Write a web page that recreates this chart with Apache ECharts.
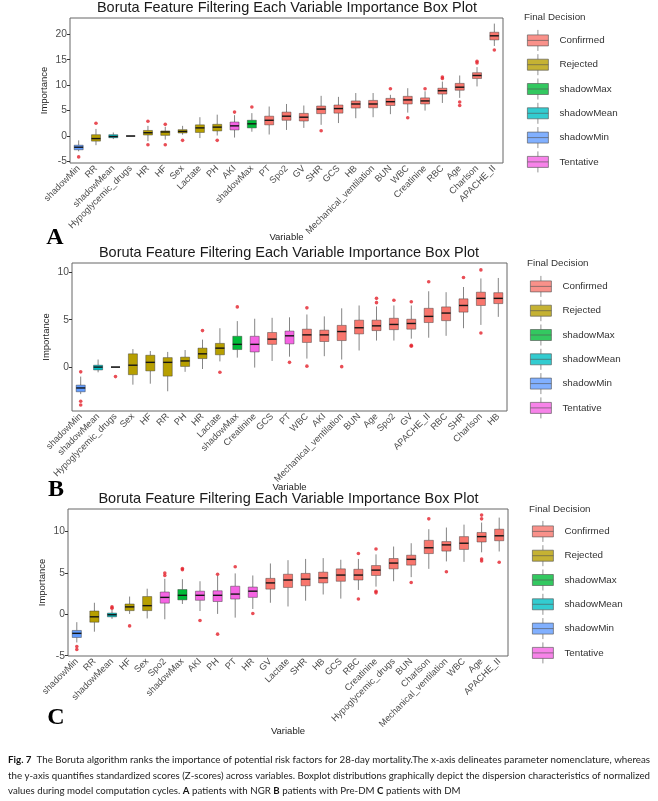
<!DOCTYPE html>
<html lang="en">
  <head>
    <meta charset="UTF-8" />
    <title>Boruta importance box plots</title>
    <script src="https://cdn.jsdelivr.net/npm/echarts@6.0.0/dist/echarts.min.js"></script>
    <style>
      html, body { margin: 0; padding: 0; background: #fff; }
      #chart { width: 658px; height: 801px; }
    </style>
  </head>
  <body>
    <div id="chart"></div>
    <script>
      const COLORS = {
        Confirmed: '#F8766D',
        Rejected: '#B79F00',
        shadowMax: '#00BA38',
        shadowMean: '#00BFC4',
        shadowMin: '#619CFF',
        Tentative: '#F564E3'
      };
      const DECISIONS = Object.keys(COLORS);

      // ---- panel A: patients with NGR ----
      const varsA = ['shadowMin', 'RR', 'shadowMean', 'Hypoglycemic_drugs', 'HR', 'HF', 'Sex', 'Lactate', 'PH', 'AKI',
        'shadowMax', 'PT', 'Spo2', 'GV', 'SHR', 'GCS', 'HB', 'Mechanical_ventilation', 'BUN', 'WBC', 'Creatinine',
        'RBC', 'Age', 'Charlson', 'APACHE_II'];
      const decisionA = ['shadowMin', 'Rejected', 'shadowMean', 'Rejected', 'Rejected', 'Rejected', 'Rejected', 'Rejected',
        'Rejected', 'Tentative', 'shadowMax', 'Confirmed', 'Confirmed', 'Confirmed', 'Confirmed', 'Confirmed', 'Confirmed',
        'Confirmed', 'Confirmed', 'Confirmed', 'Confirmed', 'Confirmed', 'Confirmed', 'Confirmed', 'Confirmed'];
      // min, q1, median, q3, max
      const boxA = [
        [-3.0, -2.7, -2.2, -1.8, -0.85], [-1.8, -1.0, -0.5, 0.26, 1.4], [-0.6, -0.33, -0.1, 0.26, 0.7],
        [0, 0, 0, 0, 0], [-1.0, 0.2, 0.65, 1.1, 2.0], [-0.7, 0.13, 0.8, 1.0, 1.8], [0.25, 0.6, 0.9, 1.25, 2.0],
        [-0.4, 0.7, 1.6, 2.2, 3.7], [0.1, 1.0, 1.75, 2.3, 4.2], [-0.3, 1.2, 2.0, 2.75, 4.1],
        [0.85, 1.6, 2.4, 3.1, 4.5], [0.3, 2.2, 3.1, 3.9, 5.8], [1.2, 3.1, 3.9, 4.7, 6.3], [1.6, 2.95, 3.7, 4.45, 6.0],
        [2.2, 4.4, 5.3, 5.9, 7.9], [2.55, 4.5, 5.4, 6.1, 7.7], [3.5, 5.5, 6.3, 6.9, 8.45], [3.7, 5.55, 6.3, 7.0, 8.45],
        [4.3, 6.0, 6.75, 7.4, 8.1], [4.6, 6.3, 7.1, 7.8, 9.4], [5.0, 6.3, 6.9, 7.5, 8.8], [6.5, 8.25, 8.9, 9.4, 10.7],
        [7.5, 9.0, 9.6, 10.35, 11.9], [9.75, 11.3, 11.9, 12.45, 13.55], [17.7, 18.9, 19.7, 20.4, 22.1]
      ];
      const outliersA = [
        ['shadowMin', -4.1], ['RR', 2.5], ['HR', 2.9], ['HR', -1.7], ['HF', 2.3], ['HF', -1.7], ['Sex', -0.85],
        ['PH', -0.85], ['AKI', 4.7], ['shadowMax', 5.7], ['SHR', 1.05], ['BUN', 9.3], ['WBC', 3.6],
        ['Creatinine', 9.3], ['RBC', 11.6], ['RBC', 11.3], ['Age', 6.7], ['Age', 6.0], ['Charlson', 14.7],
        ['Charlson', 14.35], ['APACHE_II', 16.9]
      ];
      const ticksA = [-5, 0, 5, 10, 15, 20];

      // ---- panel B: patients with Pre-DM ----
      const varsB = ['shadowMin', 'shadowMean', 'Hypoglycemic_drugs', 'Sex', 'HF', 'RR', 'PH', 'HR', 'Lactate',
        'shadowMax', 'Creatinine', 'GCS', 'PT', 'WBC', 'AKI', 'Mechanical_ventilation', 'BUN', 'Age', 'Spo2', 'GV',
        'APACHE_II', 'RBC', 'SHR', 'Charlson', 'HB'];
      const decisionB = ['shadowMin', 'shadowMean', 'Rejected', 'Rejected', 'Rejected', 'Rejected', 'Rejected', 'Rejected',
        'Rejected', 'shadowMax', 'Tentative', 'Confirmed', 'Tentative', 'Confirmed', 'Confirmed', 'Confirmed', 'Confirmed',
        'Confirmed', 'Confirmed', 'Confirmed', 'Confirmed', 'Confirmed', 'Confirmed', 'Confirmed', 'Confirmed'];
      const boxB = [
        [-2.85, -2.6, -2.2, -1.9, -1.0], [-0.55, -0.3, 0, 0.2, 0.8], [0, 0, 0, 0, 0], [-1.85, -0.8, 0.2, 1.4, 1.9],
        [-1.75, -0.4, 0.5, 1.25, 1.7], [-2.55, -0.95, 0.5, 1.0, 1.6], [-0.5, 0.07, 0.65, 1.05, 1.8],
        [-0.2, 0.9, 1.4, 2.0, 2.9], [0.6, 1.3, 2.0, 2.5, 4.1], [1.0, 1.85, 2.4, 3.25, 4.85],
        [-0.05, 1.6, 2.4, 3.25, 5.1], [0.65, 2.4, 2.95, 3.65, 5.2], [1.1, 2.45, 3.3, 3.8, 5.25],
        [0.9, 2.6, 3.4, 4.0, 5.55], [1.15, 2.7, 3.4, 3.9, 5.35], [0.8, 2.8, 3.75, 4.4, 6.2],
        [1.75, 3.5, 4.15, 4.95, 6.5], [2.8, 3.85, 4.35, 4.95, 6.4], [2.8, 3.95, 4.5, 5.15, 6.5],
        [3.0, 4.0, 4.6, 5.05, 6.5], [3.1, 4.7, 5.35, 6.2, 8.0], [3.3, 4.9, 5.7, 6.35, 7.9],
        [4.1, 5.8, 6.5, 7.2, 8.45], [4.45, 6.5, 7.25, 7.9, 9.35], [5.3, 6.7, 7.25, 7.85, 9.4]
      ];
      const outliersB = [
        ['shadowMin', -0.5], ['shadowMin', -3.6], ['shadowMin', -4.0], ['Hypoglycemic_drugs', -1.0], ['HR', 3.85],
        ['Lactate', -0.55], ['shadowMax', 6.35], ['PT', 0.5], ['WBC', 6.25], ['WBC', 0.1],
        ['Mechanical_ventilation', 0.05], ['Age', 7.25], ['Age', 6.8], ['Spo2', 7.05], ['GV', 6.9], ['GV', 2.3],
        ['GV', 2.2], ['APACHE_II', 9.0], ['SHR', 9.45], ['Charlson', 10.25], ['Charlson', 3.6]
      ];
      const ticksB = [0, 5, 10];

      // ---- panel C: patients with DM ----
      const varsC = ['shadowMin', 'RR', 'shadowMean', 'HF', 'Sex', 'Spo2', 'shadowMax', 'AKI', 'PH', 'PT', 'HR', 'GV',
        'Lactate', 'SHR', 'HB', 'GCS', 'RBC', 'Creatinine', 'Hypoglycemic_drugs', 'BUN', 'Charlson',
        'Mechanical_ventilation', 'WBC', 'Age', 'APACHE_II'];
      const decisionC = ['shadowMin', 'Rejected', 'shadowMean', 'Rejected', 'Rejected', 'Tentative', 'shadowMax',
        'Tentative', 'Tentative', 'Tentative', 'Tentative', 'Confirmed', 'Confirmed', 'Confirmed', 'Confirmed',
        'Confirmed', 'Confirmed', 'Confirmed', 'Confirmed', 'Confirmed', 'Confirmed', 'Confirmed', 'Confirmed',
        'Confirmed', 'Confirmed'];
      const boxC = [
        [-3.4, -2.8, -2.3, -1.95, -0.95], [-2.1, -0.95, -0.3, 0.4, 1.4], [-0.55, -0.3, -0.05, 0.15, 0.6],
        [0.05, 0.45, 0.9, 1.25, 2.15], [-0.5, 0.45, 1.05, 2.15, 3.1], [-0.6, 1.35, 2.05, 2.7, 4.3],
        [1.25, 1.75, 2.3, 3.0, 4.25], [0.4, 1.7, 2.3, 2.8, 4.0], [0.05, 1.55, 2.3, 2.85, 4.7],
        [-0.4, 1.85, 2.45, 3.4, 4.95], [0.65, 2.05, 2.8, 3.3, 4.7], [1.4, 3.05, 3.8, 4.35, 6.15],
        [0.95, 3.25, 4.15, 4.85, 6.55], [1.65, 3.45, 4.25, 4.95, 6.7], [2.4, 3.8, 4.4, 5.1, 6.8],
        [1.9, 4.0, 4.75, 5.5, 6.6], [2.95, 4.15, 4.75, 5.45, 6.7], [3.35, 4.7, 5.35, 5.9, 7.25],
        [4.0, 5.5, 6.2, 6.75, 8.2], [4.5, 5.95, 6.65, 7.15, 8.6], [5.5, 7.35, 8.05, 8.95, 10.3],
        [6.4, 7.65, 8.4, 8.8, 10.5], [6.35, 7.85, 8.6, 9.4, 10.85], [7.5, 8.75, 9.4, 9.9, 11.1],
        [7.6, 8.9, 9.5, 10.3, 11.7]
      ];
      const outliersC = [
        ['shadowMin', -3.9], ['shadowMin', -4.25], ['shadowMean', 0.9], ['shadowMean', 0.75], ['HF', -1.4],
        ['Spo2', 5.0], ['Spo2', 4.7], ['shadowMax', 5.55], ['shadowMax', 5.4], ['AKI', -0.75], ['PH', 4.85],
        ['PH', -2.4], ['PT', 5.75], ['HR', 0.1], ['RBC', 7.35], ['RBC', 1.85], ['Creatinine', 7.9],
        ['Creatinine', 2.8], ['Creatinine', 2.6], ['BUN', 3.85], ['Charlson', 11.55],
        ['Mechanical_ventilation', 5.15], ['Age', 12.0], ['Age', 11.55], ['Age', 6.7], ['Age', 6.45],
        ['APACHE_II', 6.3]
      ];
      const ticksC = [-5, 0, 5, 10];

      const TITLE = 'Boruta Feature Filtering Each Variable Importance Box Plot';
      const FONT = 'Liberation Sans, Arial, sans-serif';
      const BOX_ICON = 'path://M10.5,0L10.5,5M0,5L21,5L21,16L0,16ZM0,10.5L21,10.5M10.5,16L10.5,21';

      const chart = echarts.init(document.getElementById('chart'), null, { renderer: 'canvas' });

      function renderBox(params, api) {
        const x = api.value(0);
        const w = api.size([1, 0])[0] * 0.52;
        const p = [1, 2, 3, 4, 5].map((k) => api.coord([x, api.value(k)]));
        const cx = p[0][0];
        const col = COLORS[DECISIONS[api.value(6)]];
        const whisker = { stroke: '#858585', lineWidth: 1 };
        return {
          type: 'group',
          children: [
            { type: 'line', shape: { x1: cx, y1: p[4][1], x2: cx, y2: p[3][1] }, style: whisker },
            { type: 'line', shape: { x1: cx, y1: p[1][1], x2: cx, y2: p[0][1] }, style: whisker },
            {
              type: 'rect',
              shape: { x: cx - w / 2, y: p[3][1], width: w, height: p[1][1] - p[3][1] },
              style: { fill: col, stroke: 'rgba(50,50,50,0.55)', lineWidth: 0.8 }
            },
            {
              type: 'line',
              shape: { x1: cx - w / 2, y1: p[2][1], x2: cx + w / 2, y2: p[2][1] },
              style: { stroke: '#151515', lineWidth: 1.4 }
            }
          ]
        };
      }

      const panels = [
        { vars: varsA, dec: decisionA, box: boxA, outs: outliersA, ticks: ticksA,
          grid: { left: 70, top: 18, width: 433, height: 145 }, min: -5.3, max: 23.2, nameGap: 69,
          legend: { left: 527, top: 29.5 }, head: { x: 524, y: 17 }, titleX: 287, titleY: 8, letter: ['A', 55, 238] },
        { vars: varsB, dec: decisionB, box: boxB, outs: outliersB, ticks: ticksB,
          grid: { left: 72, top: 263, width: 435, height: 148 }, min: -4.63, max: 10.98, nameGap: 71,
          legend: { left: 530, top: 275.5 }, head: { x: 527, y: 263 }, titleX: 289, titleY: 253, letter: ['B', 56, 490] },
        { vars: varsC, dec: decisionC, box: boxC, outs: outliersC, ticks: ticksC,
          grid: { left: 68, top: 509, width: 440, height: 147 }, min: -5.04, max: 12.74, nameGap: 70,
          legend: { left: 532, top: 520.5 }, head: { x: 529, y: 509 }, titleX: 288.5, titleY: 499, letter: ['C', 56, 718] }
      ];

      const grids = [], xAxes = [], yAxes = [], series = [], legends = [], graphics = [];

      panels.forEach((pn, i) => {
        grids.push(Object.assign({ show: true, borderColor: '#666', borderWidth: 1 }, pn.grid));
        xAxes.push({
          type: 'category', gridIndex: i, data: pn.vars,
          axisLine: { show: false },
          axisTick: { alignWithLabel: true, interval: 0, length: 3, lineStyle: { color: '#333' } },
          axisLabel: { rotate: 45, interval: 0, fontSize: 9.2, color: '#4d4d4d', margin: 4, fontFamily: FONT },
          splitLine: { show: false },
          name: 'Variable', nameLocation: 'middle', nameGap: pn.nameGap, nameMoveOverlap: false,
          nameTextStyle: { fontSize: 9.5, color: '#222', fontFamily: FONT }
        });
        yAxes.push({
          type: 'value', gridIndex: i, min: pn.min, max: pn.max,
          axisLine: { show: false },
          splitLine: { show: false },
          axisTick: { show: true, length: 3, customValues: pn.ticks, lineStyle: { color: '#333' } },
          axisLabel: { customValues: pn.ticks, fontSize: 10.3, color: '#4d4d4d', margin: 3, fontFamily: FONT },
          name: 'Importance', nameLocation: 'middle', nameGap: 21, nameRotate: 90, nameMoveOverlap: false,
          nameTextStyle: { fontSize: 9.5, color: '#222', fontFamily: FONT }
        });
        series.push({
          type: 'custom', name: 'box' + i, xAxisIndex: i, yAxisIndex: i,
          renderItem: renderBox,
          encode: { x: 0, y: [1, 2, 3, 4, 5] },
          data: pn.box.map((b, k) => [k, ...b, DECISIONS.indexOf(pn.dec[k])])
        });
        series.push({
          type: 'scatter', name: 'outliers' + i, xAxisIndex: i, yAxisIndex: i,
          symbolSize: 3.6, itemStyle: { color: '#E4202A' }, z: 5,
          data: pn.outs
        });
        legends.push({
          data: DECISIONS, orient: 'vertical', left: pn.legend.left, top: pn.legend.top,
          itemWidth: 21, itemHeight: 21, itemGap: 2.5, padding: 0, icon: BOX_ICON, selectedMode: false,
          itemStyle: { borderColor: '#555', borderWidth: 0.8 },
          textStyle: { fontSize: 9.8, color: '#333', fontFamily: FONT, padding: [0, 0, 0, 6] }
        });
        graphics.push({
          type: 'text', x: pn.head.x, y: pn.head.y,
          style: { text: 'Final Decision', fontSize: 9.8, fontFamily: FONT, fill: '#333', verticalAlign: 'middle' }
        });
        graphics.push({
          type: 'text', x: pn.titleX, y: pn.titleY,
          style: { text: TITLE, fontSize: 14.5, fontFamily: FONT, fill: '#1a1a1a', align: 'center', verticalAlign: 'middle' }
        });
        graphics.push({
          type: 'text', x: pn.letter[1], y: pn.letter[2],
          style: { text: pn.letter[0], fontSize: 24, fontWeight: 'bold', fontFamily: 'Liberation Serif, Times New Roman, serif',
            fill: '#000', align: 'center', verticalAlign: 'middle' }
        });
      });

      // legend entries only: empty series carrying the decision colours
      DECISIONS.forEach((d) => {
        series.push({ type: 'scatter', name: d, xAxisIndex: 0, yAxisIndex: 0, data: [], itemStyle: { color: COLORS[d] } });
      });

      // caption
      const CAP_FONT = 'Lato, Noto Sans, sans-serif';
      const CAP_SIZE = 10;
      const capLines = [
        '{b|Fig. 7}  The Boruta algorithm ranks the importance of potential risk factors for 28-day mortality.The x-axis delineates parameter nomenclature, whereas',
        'the y-axis quantifies standardized scores (Z-scores) across variables. Boxplot distributions graphically depict the dispersion characteristics of normalized',
        'values during model computation cycles. {b|A} patients with NGR {b|B} patients with Pre-DM {b|C} patients with DM'
      ];
      const ctx = document.createElement('canvas').getContext('2d');
      function plainWidth(t) {
        let w = 0;
        t.split(/(\{b\|[^}]*\})/).forEach((part) => {
          const m = part.match(/^\{b\|([^}]*)\}$/);
          ctx.font = (m ? 'bold ' : '') + CAP_SIZE + 'px ' + CAP_FONT;
          w += ctx.measureText(m ? m[1] : part).width;
        });
        return w;
      }
      const capWidth = 642;
      const s1 = capWidth / plainWidth(capLines[0]);
      const s2 = capWidth / plainWidth(capLines[1]);
      [s1, s2, s2].forEach((s, k) => {
        graphics.push({
          type: 'text', x: 8, y: 760 + k * 15.5, scaleX: s,
          style: {
            text: capLines[k], fontSize: CAP_SIZE, fontFamily: CAP_FONT, fill: '#222', verticalAlign: 'middle',
            rich: { b: { fontWeight: 'bold', fontSize: CAP_SIZE, fontFamily: CAP_FONT, fill: '#111' } }
          }
        });
      });

      chart.setOption({
        animation: false,
        backgroundColor: '#fff',
        textStyle: { fontFamily: FONT },
        grid: grids,
        xAxis: xAxes,
        yAxis: yAxes,
        legend: legends,
        series: series,
        graphic: { elements: graphics }
      });
    </script>
  </body>
</html>
